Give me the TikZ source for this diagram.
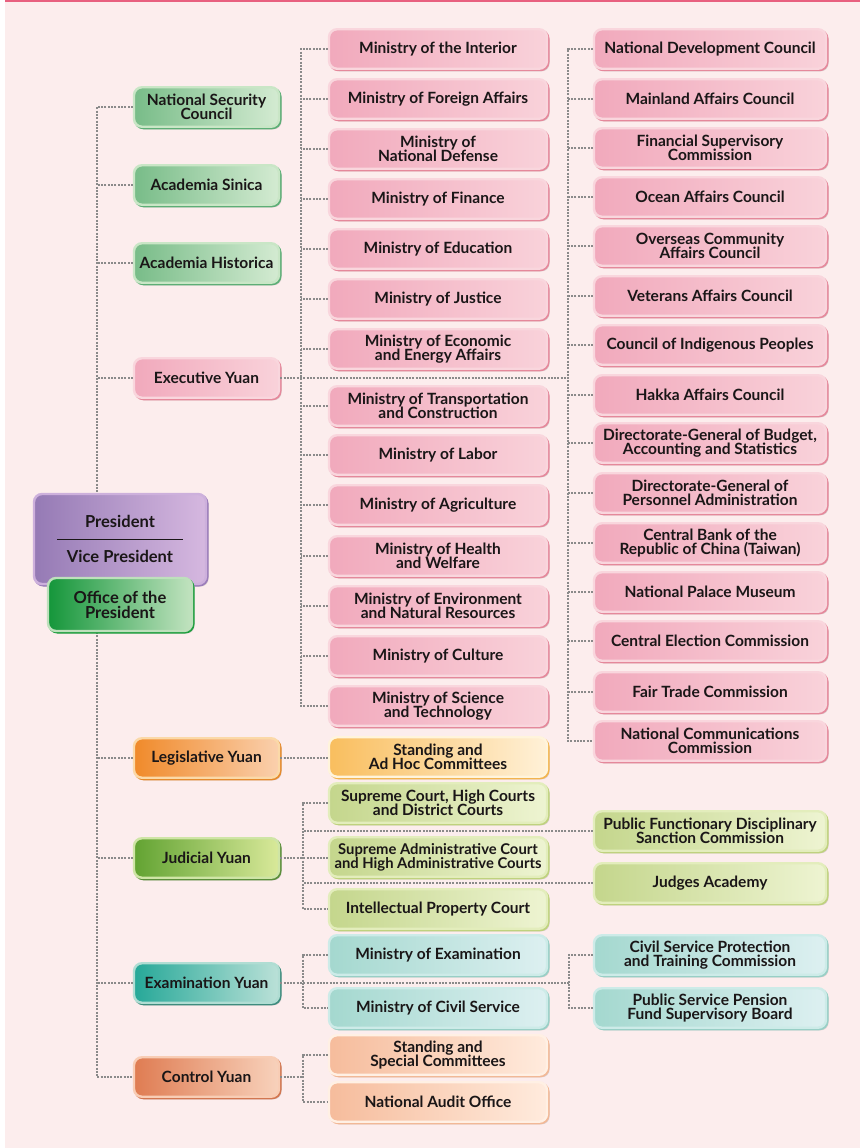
\documentclass[tikz,border=0pt]{standalone}
\usepackage{fontspec}
\usepackage{tikz}
\usetikzlibrary{calc}
\usetikzlibrary{shadows}
\newfontfamily\orgfont{Lato}

\definecolor{bgpink}{HTML}{FCEDED}
\definecolor{topbar}{HTML}{E8607F}
\definecolor{txt}{HTML}{1A1617}
\definecolor{linkgray}{HTML}{8A8A8A}
% executive pink
\definecolor{pinkL}{HTML}{F1A9BC}
\definecolor{pinkR}{HTML}{F9D2DA}
\definecolor{pinkRim}{HTML}{F9D6DD}
\definecolor{pinkEdge}{HTML}{E5889B}
% green councils
\definecolor{greenL}{HTML}{78BC88}
\definecolor{greenR}{HTML}{D4EBD2}
\definecolor{greenRim}{HTML}{C9E6C6}
\definecolor{greenEdge}{HTML}{5DAE76}
% president
\definecolor{purpL}{HTML}{957AB5}
\definecolor{purpR}{HTML}{D6B8E0}
\definecolor{purpRim}{HTML}{CDB0DC}
\definecolor{purpEdge}{HTML}{9B7DBA}
\definecolor{offL}{HTML}{14963A}
\definecolor{offR}{HTML}{C2E3C0}
\definecolor{offRim}{HTML}{BEE0BC}
\definecolor{offEdge}{HTML}{1F9F3F}
% legislative
\definecolor{orgL}{HTML}{F08A2A}
\definecolor{orgR}{HTML}{FAD0AE}
\definecolor{orgRim}{HTML}{FBD9A8}
\definecolor{orgEdge}{HTML}{E58A2C}
\definecolor{yelL}{HTML}{F9BE5E}
\definecolor{yelR}{HTML}{FFF1D8}
\definecolor{yelRim}{HTML}{FFF4DC}
\definecolor{yelEdge}{HTML}{F3B44E}
% judicial
\definecolor{judL}{HTML}{62A332}
\definecolor{judR}{HTML}{D9E99A}
\definecolor{judRim}{HTML}{CFE5A6}
\definecolor{judEdge}{HTML}{5A8E3A}
\definecolor{limeL}{HTML}{C4D68C}
\definecolor{limeR}{HTML}{EEF4D2}
\definecolor{limeRim}{HTML}{E3EDBC}
\definecolor{limeEdge}{HTML}{BFD27E}
% examination
\definecolor{tealL}{HTML}{26A898}
\definecolor{tealR}{HTML}{BBE1D8}
\definecolor{tealRim}{HTML}{B0DDD3}
\definecolor{tealEdge}{HTML}{3E8C7E}
\definecolor{aquaL}{HTML}{A4D8CF}
\definecolor{aquaR}{HTML}{DDF0F1}
\definecolor{aquaRim}{HTML}{CDEBE8}
\definecolor{aquaEdge}{HTML}{98CFC6}
% control
\definecolor{ctlL}{HTML}{DF7C52}
\definecolor{ctlR}{HTML}{F8D2BC}
\definecolor{ctlRim}{HTML}{F8CDB5}
\definecolor{ctlEdge}{HTML}{D27650}
\definecolor{peachL}{HTML}{F6BC9C}
\definecolor{peachR}{HTML}{FFEBDD}
\definecolor{peachRim}{HTML}{FFF0E4}
\definecolor{peachEdge}{HTML}{F2B896}

\tikzset{
  unit/.style n args={4}{rounded corners=8pt, line width=2.4pt, align=center,
    minimum height=39.5pt, inner sep=1pt, text=txt,
    font={\orgfont\bfseries\fontsize{15.5}{14}\selectfont\lineskiplimit=-20pt},
    general shadow={fill=black!60, opacity=.22, shadow xshift=2.6pt, shadow yshift=-2.6pt},
    general shadow={draw=#4, line width=2.4pt, shadow xshift=1.3pt, shadow yshift=-1.3pt},
    draw=#3, left color=#1, right color=#2},
  pinkbox/.style={unit={pinkL}{pinkR}{pinkRim}{pinkEdge}},
  greenbox/.style={unit={greenL}{greenR}{greenRim}{greenEdge}},
  yuan/.style={minimum width=145pt},
  ministry/.style={minimum width=218pt},
  council/.style={minimum width=232pt},
  link/.style={draw=linkgray, line width=2pt, dash pattern=on 2pt off 1.3pt},
}

\begin{document}
\begin{tikzpicture}[x=1pt, y=-1pt]
    \useasboundingbox (0,0) rectangle (860,1148);
    \fill[white] (0,0) rectangle (860,1148);
    \fill[bgpink] (5,0) rectangle (860,1148);
    \fill[topbar] (5,0) rectangle (860,2.5);

    % Yuans and councils under the President
    \node[greenbox, yuan] (nsc) at (206.5,107) {National Security\\Council};
    \node[greenbox, yuan] (sinica) at (206.5,185) {Academia Sinica};
    \node[greenbox, yuan] (historica) at (206.5,263) {Academia Historica};
    \node[pinkbox, yuan] (exec) at (206.5,378) {Executive Yuan};
    \node[unit={orgL}{orgR}{orgRim}{orgEdge}, yuan] (leg) at (206.5,758) {Legislative Yuan};
    \node[unit={judL}{judR}{judRim}{judEdge}, yuan] (jud) at (206.5,858) {Judicial Yuan};
    \node[unit={tealL}{tealR}{tealRim}{tealEdge}, yuan] (exam) at (206.5,983) {Examination Yuan};
    \node[unit={ctlL}{ctlR}{ctlRim}{ctlEdge}, yuan] (ctl) at (206.5,1077) {Control Yuan};

    % Ministries
    \node[pinkbox, ministry] (moi) at (438,49) {Ministry of the Interior};
    \node[pinkbox, ministry] (mofa) at (438,99) {Ministry of Foreign Affairs};
    \node[pinkbox, ministry] (mnd) at (438,149) {Ministry of\\National Defense};
    \node[pinkbox, ministry] (mof) at (438,199) {Ministry of Finance};
    \node[pinkbox, ministry] (moe) at (438,249) {Ministry of Education};
    \node[pinkbox, ministry] (moj) at (438,299) {Ministry of Justice};
    \node[pinkbox, ministry] (moea) at (438,349) {Ministry of Economic\\and Energy Affairs};
    \node[pinkbox, ministry] (motc) at (438,406) {Ministry of Transportation\\and Construction};
    \node[pinkbox, ministry] (mol) at (438,455) {Ministry of Labor};
    \node[pinkbox, ministry] (moa) at (438,505) {Ministry of Agriculture};
    \node[pinkbox, ministry] (mohw) at (438,556) {Ministry of Health\\and Welfare};
    \node[pinkbox, ministry] (moenv) at (438,606) {Ministry of Environment\\and Natural Resources};
    \node[pinkbox, ministry] (moc) at (438,656) {Ministry of Culture};
    \node[pinkbox, ministry] (nstc) at (438,706) {Ministry of Science\\and Technology};

    % Councils and commissions
    \node[pinkbox, council] (ndc) at (710,49) {National Development Council};
    \node[pinkbox, council] (mac) at (710,99) {Mainland Affairs Council};
    \node[pinkbox, council] (fsc) at (710,148) {Financial Supervisory\\Commission};
    \node[pinkbox, council] (oac) at (710,197) {Ocean Affairs Council};
    \node[pinkbox, council] (ocac) at (710,246) {Overseas Community\\Affairs Council};
    \node[pinkbox, council] (vac) at (710,296) {Veterans Affairs Council};
    \node[pinkbox, council] (cip) at (710,345) {Council of Indigenous Peoples};
    \node[pinkbox, council] (hac) at (710,395) {Hakka Affairs Council};
    \node[pinkbox, council] (dgbas) at (710,443) {Directorate-General of Budget,\\Accounting and Statistics};
    \node[pinkbox, council] (dgpa) at (710,493) {Directorate-General of\\Personnel Administration};
    \node[pinkbox, council] (cbc) at (710,543) {Central Bank of the\\Republic of China (Taiwan)};
    \node[pinkbox, council] (npm) at (710,592) {National Palace Museum};
    \node[pinkbox, council] (cec) at (710,641) {Central Election Commission};
    \node[pinkbox, council] (ftc) at (710,692) {Fair Trade Commission};
    \node[pinkbox, council] (ncc) at (710,741) {National Communications\\Commission};

    % Legislative, Judicial, Examination, Control
    \node[unit={yelL}{yelR}{yelRim}{yelEdge}, ministry] (com) at (438,757) {Standing and\\Ad Hoc Committees};
    \node[unit={limeL}{limeR}{limeRim}{limeEdge}, ministry] (court) at (438,803) {Supreme Court, High Courts\\and District Courts};
    \node[unit={limeL}{limeR}{limeRim}{limeEdge}, ministry,
      font={\orgfont\bfseries\fontsize{14.8}{14}\selectfont\lineskiplimit=-20pt}] (adm) at (438,857) {Supreme Administrative Court\\and High Administrative Courts};
    \node[unit={limeL}{limeR}{limeRim}{limeEdge}, ministry] (ipc) at (438,909) {Intellectual Property Court};
    \node[unit={limeL}{limeR}{limeRim}{limeEdge}, council] (pfdsc) at (710,831) {Public Functionary Disciplinary\\Sanction Commission};
    \node[unit={limeL}{limeR}{limeRim}{limeEdge}, council] (jacad) at (710,883) {Judges Academy};
    \node[unit={aquaL}{aquaR}{aquaRim}{aquaEdge}, ministry] (moex) at (438,955) {Ministry of Examination};
    \node[unit={aquaL}{aquaR}{aquaRim}{aquaEdge}, ministry] (mocs) at (438,1008) {Ministry of Civil Service};
    \node[unit={aquaL}{aquaR}{aquaRim}{aquaEdge}, council] (cspt) at (710,955) {Civil Service Protection\\and Training Commission};
    \node[unit={aquaL}{aquaR}{aquaRim}{aquaEdge}, council] (pspf) at (710,1008) {Public Service Pension\\Fund Supervisory Board};
    \node[unit={peachL}{peachR}{peachRim}{peachEdge}, ministry] (scom) at (438,1055) {Standing and\\Special Committees};
    \node[unit={peachL}{peachR}{peachRim}{peachEdge}, ministry] (nao) at (438,1102) {National Audit Office};

    % dotted connectors
    \draw[link] (nsc.west) -- ++(-36,0) |- (ctl.west);
    \draw[link] (sinica.west) -- ++(-36,0);
    \draw[link] (historica.west) -- ++(-36,0);
    \draw[link] (exec.west) -- ++(-36,0);
    \draw[link] (leg.west) -- ++(-36,0);
    \draw[link] (jud.west) -- ++(-36,0);
    \draw[link] (exam.west) -- ++(-36,0);

    \draw[link] (moi.west) -- ++(-27,0) |- (nstc.west);
    \draw[link] (mofa.west) -- ++(-27,0);
    \draw[link] (mnd.west) -- ++(-27,0);
    \draw[link] (mof.west) -- ++(-27,0);
    \draw[link] (moe.west) -- ++(-27,0);
    \draw[link] (moj.west) -- ++(-27,0);
    \draw[link] (moea.west) -- ++(-27,0);
    \draw[link] (motc.west) -- ++(-27,0);
    \draw[link] (mol.west) -- ++(-27,0);
    \draw[link] (moa.west) -- ++(-27,0);
    \draw[link] (mohw.west) -- ++(-27,0);
    \draw[link] (moenv.west) -- ++(-27,0);
    \draw[link] (moc.west) -- ++(-27,0);
    \draw[link] (exec.east) -- ($(exec.east -| ndc.west)+(-25,0)$);

    \draw[link] (ndc.west) -- ++(-25,0) |- (ncc.west);
    \draw[link] (mac.west) -- ++(-25,0);
    \draw[link] (fsc.west) -- ++(-25,0);
    \draw[link] (oac.west) -- ++(-25,0);
    \draw[link] (ocac.west) -- ++(-25,0);
    \draw[link] (vac.west) -- ++(-25,0);
    \draw[link] (cip.west) -- ++(-25,0);
    \draw[link] (hac.west) -- ++(-25,0);
    \draw[link] (dgbas.west) -- ++(-25,0);
    \draw[link] (dgpa.west) -- ++(-25,0);
    \draw[link] (cbc.west) -- ++(-25,0);
    \draw[link] (npm.west) -- ++(-25,0);
    \draw[link] (cec.west) -- ++(-25,0);
    \draw[link] (ftc.west) -- ++(-25,0);

    \draw[link] (leg.east) -- (leg.east -| com.west);

    \draw[link] (court.west) -- ++(-25,0) |- (ipc.west);
    \draw[link] (jud.east) -- (jud.east -| adm.west);
    \draw[link] (pfdsc.west) -- ($(pfdsc.west -| court.west)+(-25,0)$);
    \draw[link] (jacad.west) -- ($(jacad.west -| court.west)+(-25,0)$);

    \draw[link] (moex.west) -- ++(-25,0) |- (mocs.west);
    \draw[link] (cspt.west) -- ++(-24,0) |- (pspf.west);
    \draw[link] (exam.east) -- ($(exam.east -| cspt.west)+(-24,0)$);

    \draw[link] (scom.west) -- ++(-25,0) |- (nao.west);
    \draw[link] (ctl.east) -- ($(ctl.east -| scom.west)+(-25,0)$);

    % President on top of the trunk
    \node[unit={purpL}{purpR}{purpRim}{purpEdge}, minimum width=172pt, minimum height=90pt,
      font={\orgfont\bfseries\fontsize{16.5}{14}\selectfont}] (pres) at (120,539) {President\\[21pt]Vice President};
    \draw[txt, line width=.7pt] ($(pres.center)+(-63,0)$) -- ++(126,0);
    \node[unit={offL}{offR}{offRim}{offEdge}, minimum width=144pt, minimum height=53pt,
      font={\orgfont\bfseries\fontsize{16.5}{15}\selectfont}] (office) at (120,604.5) {Office of the\\President};

  \end{tikzpicture}
\end{document}
